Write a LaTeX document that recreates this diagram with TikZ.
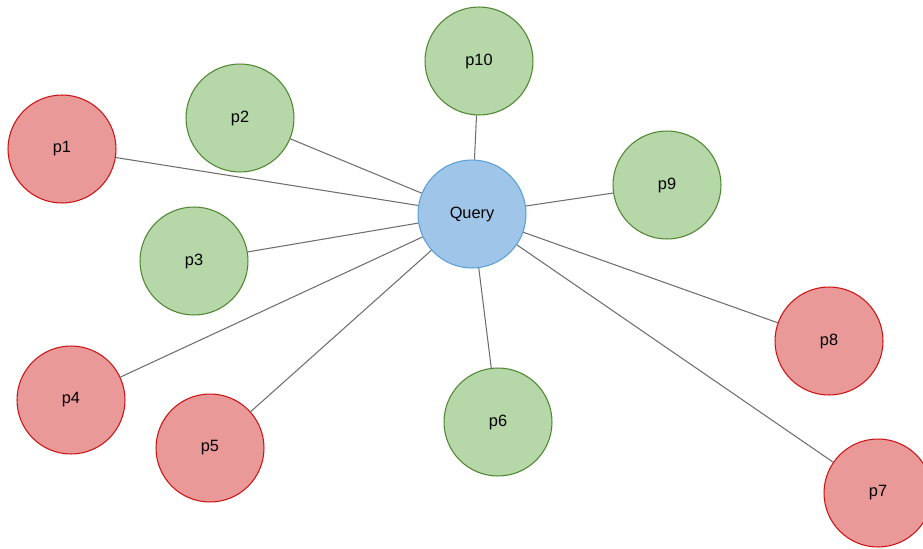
\documentclass[tikz,border=0pt]{standalone}
\usepackage{fontspec}
\setmainfont{Liberation Sans}
\usetikzlibrary{positioning}
\definecolor{qfill}{RGB}{159,197,232}
\definecolor{qline}{RGB}{90,160,215}
\definecolor{posfill}{RGB}{182,215,168}
\definecolor{posline}{RGB}{80,135,50}
\definecolor{negfill}{RGB}{234,153,153}
\definecolor{negline}{RGB}{204,20,20}
\definecolor{spoke}{RGB}{110,110,110}

\begin{document}
\begin{tikzpicture}[x=0.02cm,y=-0.02cm,
    dot/.style={circle,minimum size=2.16cm,inner sep=0pt,line width=0.6pt,font=\fontsize{9.3}{11}\selectfont},
    querynode/.style={dot,fill=qfill,draw=qline},
    posnode/.style={dot,fill=posfill,draw=posline},
    negnode/.style={dot,fill=negfill,draw=negline},
    link/.style={spoke,line width=0.6pt}]
        \useasboundingbox (0,0) rectangle (923,548);
        % points around the query
        \node[negnode] (p1) at (62,149) {p1};
        \node[posnode] (p2) at (240,118) {p2};
        \node[posnode] (p3) at (194,261) {p3};
        \node[negnode] (p4) at (71,400) {p4};
        \node[negnode] (p5) at (210,448) {p5};
        \node[posnode] (p6) at (498,422) {p6};
        \node[negnode] (p7) at (878,493) {p7};
        \node[negnode] (p8) at (829,341) {p8};
        \node[posnode] (p9) at (667,185) {p9};
        \node[posnode] (p10) at (479,61) {p10};
        \node[querynode] (query) at (472,214) {Query};
        \foreach \p in {p1,p2,p3,p4,p5,p6,p7,p8,p9,p10}
          \draw[link] (query) -- (\p);
      \end{tikzpicture}
\end{document}
